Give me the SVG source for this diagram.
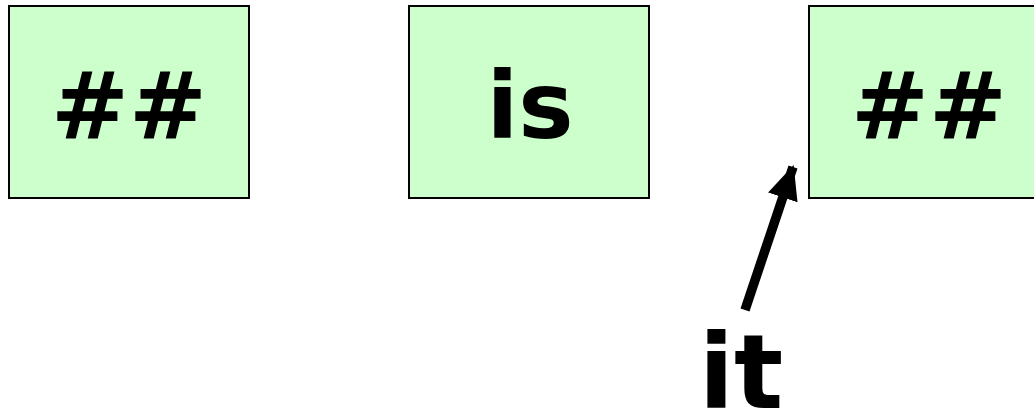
<svg xmlns="http://www.w3.org/2000/svg" width="1034" height="412" viewBox="0 0 1034 412">
<style>
.box{fill:#ccffcc;stroke:#000;stroke-width:2}
.lbl{font-family:"DejaVu Sans",Verdana,sans-serif;font-weight:bold;font-size:93px;text-anchor:middle;fill:#000}
</style>
<defs>
<marker id="ah" markerUnits="userSpaceOnUse" markerWidth="34" markerHeight="32" viewBox="0 0 34 32" refX="32" refY="16" orient="auto">
<path d="M0,0.5 L34,16 L0,31.5 Z" fill="#000"/>
</marker>
</defs>
<rect width="1034" height="412" fill="#fff"/>
<g id="node1"><rect class="box" x="9" y="6" width="240" height="192"/><text class="lbl" x="129" y="138">##</text></g>
<g id="node2"><rect class="box" x="409" y="6" width="240" height="192"/><text class="lbl" x="530" y="138">is</text></g>
<g id="node3"><rect class="box" x="809" y="6" width="240" height="192"/><text class="lbl" x="929" y="138">##</text></g>
<g id="node4"><text class="lbl" x="741" y="408" style="font-size:103px">it</text></g>
<g id="connectors"><line x1="745" y1="310" x2="793" y2="167" stroke="#000" stroke-width="9.5" marker-end="url(#ah)"/></g>
</svg>
